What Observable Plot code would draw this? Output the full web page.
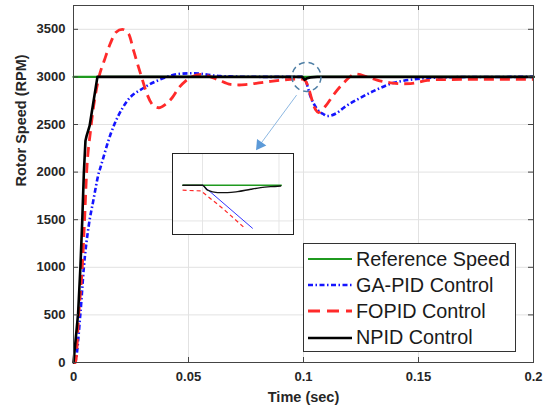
<!DOCTYPE html>
<html>
<head>
<meta charset="utf-8">
<script src="https://cdn.jsdelivr.net/npm/d3@7"></script>
<script src="https://cdn.jsdelivr.net/npm/@observablehq/plot@0.6"></script>
<style>
  html, body { margin: 0; padding: 0; background: white; }
  #wrap { position: relative; width: 548px; height: 409px; overflow: hidden; font-family: 'Liberation Sans', Arial, sans-serif; }
  #inset { position: absolute; left: 172px; top: 153px; border: 1px solid #222; }
  #legend { position: absolute; left: 303px; top: 243px; width: 211px; height: 105px; border: 1px solid #333; background: white; padding-top: 2px; box-sizing: content-box; }
  .row { height: 26.2px; display: flex; align-items: center; }
  .row svg { margin-left: 4px; margin-right: 4px; }
  .row span { font-size: 19.8px; color: #1a1a1a; white-space: nowrap; }
</style>
</head>
<body>
<div id="wrap"></div>
<script>
// ---------- data ----------
const xTicks = [0, 0.05, 0.1, 0.15, 0.2];
const xTickLabels = ["0", "0.05", "0.1", "0.15", "0.2"];
const yTicks = [0, 500, 1000, 1500, 2000, 2500, 3000, 3500];

const tRef = [0, 0.2];
const yRef = [3000, 3000];

const tGA = [0, 0.0006, 0.003, 0.0045, 0.0067, 0.0086, 0.011, 0.0117, 0.0161, 0.0233, 0.0306, 0.0378, 0.0465, 0.052, 0.0639, 0.078, 0.0995, 0.1009, 0.103, 0.106, 0.1088, 0.1103, 0.1147, 0.1175, 0.1248, 0.132, 0.1393, 0.1436, 0.1465, 0.152, 0.16, 0.175, 0.2];
const yGA = [0, 0, 514, 999, 1450, 1698, 1992, 2047, 2397, 2746, 2886, 2974, 3033, 3038, 3008, 3001, 3000, 2960, 2799, 2659, 2607, 2589, 2624, 2676, 2781, 2869, 2938, 2960, 2970, 2985, 2994, 2999, 3000];

const tFOPID = [0, 0.0009, 0.0023, 0.0038, 0.0048, 0.0057, 0.0074, 0.011, 0.0135, 0.016, 0.0185, 0.0212, 0.024, 0.0262, 0.0277, 0.0299, 0.032, 0.0349, 0.0371, 0.040, 0.0429, 0.0458, 0.0487, 0.0552, 0.0625, 0.0683, 0.072, 0.0755, 0.0842, 0.0943, 0.0995, 0.1009, 0.1052, 0.1065, 0.1096, 0.1132, 0.1175, 0.1226, 0.1277, 0.132, 0.1378, 0.1422, 0.1465, 0.1538, 0.16, 0.2];
const yFOPID = [0, 0, 514, 999, 1488, 1992, 2432, 2990, 3180, 3350, 3470, 3500, 3450, 3270, 3148, 2974, 2817, 2694, 2676, 2712, 2781, 2886, 2956, 3026, 2974, 2921, 2915, 2921, 2949, 2974, 2978, 2956, 2659, 2625, 2694, 2817, 2938, 3030, 3001, 2966, 2938, 2928, 2930, 2963, 2972, 2975];

const tNPID = [0, 0.002, 0.003, 0.0038, 0.0045, 0.0052, 0.0057, 0.007, 0.0104, 0.0995, 0.1005, 0.1015, 0.103, 0.106, 0.2];
const yNPID = [0, 514, 1000, 1490, 1990, 2330, 2380, 2485, 3000, 3000, 2970, 2985, 2995, 3000, 3000];

// zoom annotation (data coordinates)
const circleCenter = [{t: 0.1013, v: 3000}];
const arrowStart = [0.097, 2809];
const arrowEnd = [0.0810, 2285];

// inset (zoomed view around t = 0.1)
const insetXTicks = [0.1, 0.101];
const insetYTicks = [2950];
const tInRef = [0.099743, 0.10103];
const yInRef = [3000, 3000];
const tInNPID = [0.099743, 0.1, 0.100065, 0.100196, 0.100326, 0.100457, 0.100631, 0.100761, 0.100892, 0.101022];
const yInNPID = [3000, 3000, 2993, 2989.6, 2989.6, 2991, 2994.4, 2996.6, 2998, 2999];
const tInFOPID = [0.099739, 0.09998, 0.10027, 0.100535];
const yInFOPID = [2993, 2992, 2967, 2941.6];
const tInGA = [0.1, 0.100653];
const yInGA = [3000, 2939.8];

// ---------- helpers ----------
const pts = (ts, vs) => ts.map((t, i) => ({t, v: vs[i]}));
const GREEN = "#1f9a1f", BLUE = "#1515ff", RED = "#ff2a2a", BLACK = "#000";

// ---------- main chart ----------
const main = Plot.plot({
  width: 548, height: 409,
  marginLeft: 73, marginRight: 15, marginTop: 5, marginBottom: 47,
  x: {domain: [0, 0.2]},
  y: {domain: [0, 3750]},
  style: {fontFamily: "'Liberation Sans', Arial, sans-serif", fontSize: "13px", fontWeight: "bold", color: "#262626", background: "white"},
  marks: [
    Plot.gridX(xTicks, {stroke: "#e2e2e2", strokeOpacity: 1}),
    Plot.gridY(yTicks, {stroke: "#e2e2e2", strokeOpacity: 1}),
    Plot.line(pts(tRef, yRef), {x: "t", y: "v", stroke: GREEN, strokeWidth: 2.2}),
    Plot.line(pts(tGA, yGA), {x: "t", y: "v", stroke: BLUE, strokeWidth: 2.6, strokeDasharray: "5,2.5,1.5,2.5", strokeLinecap: "butt", curve: "monotone-x"}),
    Plot.line(pts(tFOPID, yFOPID), {x: "t", y: "v", stroke: RED, strokeWidth: 2.8, strokeDasharray: "10,6", strokeLinecap: "butt", curve: "monotone-x"}),
    Plot.line(pts(tNPID, yNPID), {x: "t", y: "v", stroke: BLACK, strokeWidth: 2.6}),
    // zoom marker
    Plot.dot(circleCenter, {x: "t", y: "v", r: 14.5, stroke: "#4f7fa5", strokeWidth: 1.5, strokeDasharray: "6,4", fill: "none"}),
    Plot.link([{x1: arrowStart[0], y1: arrowStart[1], x2: arrowEnd[0], y2: arrowEnd[1]}], {x1: "x1", y1: "y1", x2: "x2", y2: "y2", stroke: "#8db8e2", strokeWidth: 1}),
    Plot.dot([{t: arrowEnd[0], v: arrowEnd[1]}], {x: "t", y: "v", symbol: "triangle", r: 4.2, fill: "#5c9ad8", stroke: "none", rotate: 215}),
    // frame & inward ticks
    Plot.frame({stroke: "#444", strokeWidth: 1}),
    Plot.tickX(xTicks, {x: d => d, insetTop: 352, stroke: "#444"}),
    Plot.tickX(xTicks, {x: d => d, insetBottom: 352, stroke: "#444"}),
    Plot.tickY(yTicks, {y: d => d, insetRight: 455, stroke: "#444"}),
    Plot.tickY(yTicks, {y: d => d, insetLeft: 455, stroke: "#444"}),
    Plot.axisX(xTicks, {tickSize: 0, tickPadding: 9, tickFormat: (d, i) => xTickLabels[i], label: null, fill: "#262626"}),
    Plot.axisY(yTicks, {tickSize: 0, tickPadding: 8, tickFormat: d => String(d), label: null, fill: "#262626"}),
    Plot.text(["Rotor Speed (RPM)"], {frameAnchor: "left", dx: -52, dy: 2.5, rotate: -90, fontSize: 14.5, fontWeight: "bold", fill: "#262626", style: "letter-spacing:0.8px"}),
    Plot.text(["Time (sec)"], {frameAnchor: "bottom", dy: 39, fontSize: 14.5, fontWeight: "bold", fill: "#262626"})
  ]
});
document.getElementById("wrap").appendChild(main);

// ---------- inset ----------
const inset = Plot.plot({
  width: 120, height: 80,
  marginLeft: 0, marginRight: 0, marginTop: 0, marginBottom: 0,
  x: {domain: [0.09962, 0.10119], axis: null},
  y: {domain: [2931, 3043], axis: null},
  style: {background: "white", display: "block"},
  marks: [
    Plot.gridX(insetXTicks, {stroke: "#e6e6e6", strokeOpacity: 1}),
    Plot.gridY(insetYTicks, {stroke: "#e6e6e6", strokeOpacity: 1}),
    Plot.line(pts(tInRef, yInRef), {x: "t", y: "v", stroke: GREEN, strokeWidth: 1.6}),
    Plot.line(pts(tInGA, yInGA), {x: "t", y: "v", stroke: "#3535ff", strokeWidth: 1}),
    Plot.line(pts(tInFOPID, yInFOPID), {x: "t", y: "v", stroke: RED, strokeWidth: 1.2, strokeDasharray: "4,3", strokeLinecap: "butt"}),
    Plot.line(pts(tInNPID, yInNPID), {x: "t", y: "v", stroke: "#111", strokeWidth: 1.4, curve: "monotone-x"})
  ]
});
inset.id = "inset";
document.getElementById("wrap").appendChild(inset);

// ---------- legend ----------
const legendNames = ["Reference Speed", "GA-PID Control", "FOPID Control", "NPID Control"];
const legendColors = [GREEN, BLUE, RED, BLACK];
const legendDash = ["none", "5,2.5,1.5,2.5", "12,7", "none"];
const legendWidth = [2.2, 2.6, 2.8, 2.6];
const legend = document.createElement("div");
legend.id = "legend";
legendNames.forEach((name, i) => {
  const row = document.createElement("div");
  row.className = "row";
  const ns = "http://www.w3.org/2000/svg";
  const svg = document.createElementNS(ns, "svg");
  svg.setAttribute("width", 44); svg.setAttribute("height", 10);
  const ln = document.createElementNS(ns, "line");
  ln.setAttribute("x1", 0); ln.setAttribute("x2", 44);
  ln.setAttribute("y1", 5); ln.setAttribute("y2", 5);
  ln.setAttribute("stroke", legendColors[i]);
  ln.setAttribute("stroke-width", legendWidth[i]);
  if (legendDash[i] !== "none") ln.setAttribute("stroke-dasharray", legendDash[i]);
  svg.appendChild(ln);
  const sp = document.createElement("span");
  sp.textContent = name;
  row.appendChild(svg); row.appendChild(sp);
  legend.appendChild(row);
});
document.getElementById("wrap").appendChild(legend);
</script>
</body>
</html>
